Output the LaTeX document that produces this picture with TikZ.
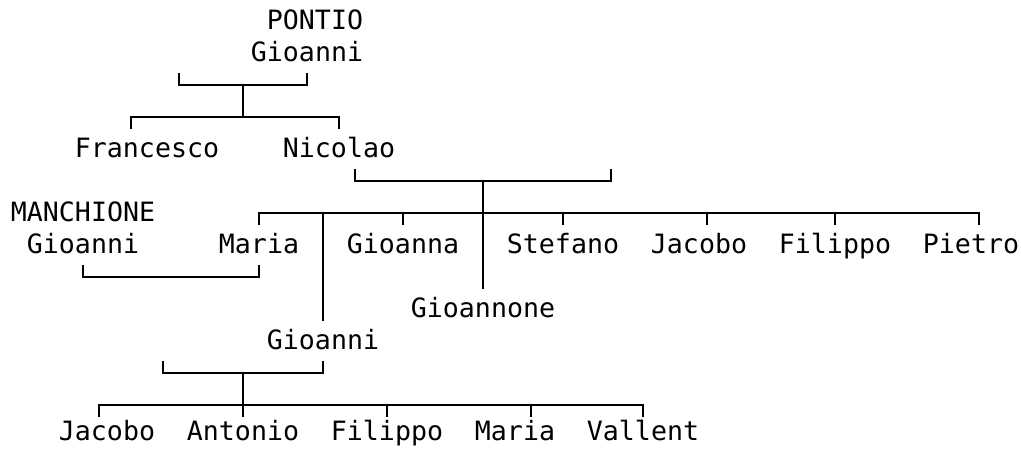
\documentclass[tikz,border=0pt]{standalone}
\usepackage{fontspec}
\setmonofont{DejaVu Sans Mono}
\begin{document}
\begin{tikzpicture}[x=16pt, y=-32pt,
  person/.style={inner sep=0pt, text height=28.5pt, text depth=11.5pt,
    font=\ttfamily\fontsize{26.6pt}{32pt}\selectfont},
  lastrow/.style={person, text height=23.5pt, text depth=2pt, anchor=base},
  link/.style={line width=1.8pt}]
\useasboundingbox (-0.1875,-1.65625) rectangle (63.625,12.34375);
% first generation
\node[person] (pontio) at (19.5,-1) {PONTIO};
\node[person] (gioanniP) at (19,0) {Gioanni};
\node[person] (francesco) at (9,3) {Francesco};
\node[person] (nicolao) at (21,3) {Nicolao};
% children of Nicolao
\node[person] (manchione) at (5,5) {MANCHIONE};
\node[person] (gioanniM) at (5,6) {Gioanni};
\node[person] (maria) at (16,6) {Maria};
\node[person] (gioanna) at (25,6) {Gioanna};
\node[person] (stefano) at (35,6) {Stefano};
\node[person] (jacobo) at (43.5,6) {Jacobo};
\node[person] (filippo) at (52,6) {Filippo};
\node[person] (pietro) at (60.5,6) {Pietro};
\node[person] (gioannone) at (30,8) {Gioannone};
\node[person] (gioanniN) at (20,9) {Gioanni};
% children of Gioanni
\node[lastrow] (jacoboN) at (6.5,12.11) {Jacobo};
\node[lastrow] (antonio) at (15,12.11) {Antonio};
\node[lastrow] (filippoN) at (24,12.11) {Filippo};
\node[lastrow] (mariaN) at (32,12.11) {Maria};
\node[lastrow] (vallent) at (40,12.11) {Vallent};
% marriages and descent
\coordinate (wifeP) at (11,0.625);
\coordinate (unionP) at (15,1);
\coordinate (kidsP) at (15,2);
\draw[link] (wifeP) -- ++(0,0.375) -| (gioanniP.south);
\draw[link] (unionP) -- (kidsP);
\draw[link] ([xshift=-16pt]francesco.north) -- ++(0,-0.375) -| (nicolao.north);
\coordinate (wifeN) at (38,3.625);
\coordinate (unionN) at (30,4);
\draw[link] ([xshift=16pt]nicolao.south) -- ++(0,0.375) -| (wifeN);
\draw[link] (unionN) -- (gioannone.north);
\draw[link] (maria.north) -- ++(0,-0.375) -| ([xshift=8pt]pietro.north);
\draw[link] (gioanna.north) -- ++(0,-0.375);
\draw[link] (stefano.north) -- ++(0,-0.375);
\draw[link] ([xshift=8pt]jacobo.north) -- ++(0,-0.375);
\draw[link] (filippo.north) -- ++(0,-0.375);
\coordinate (sonN) at (20,5);
\draw[link] (sonN) -- (gioanniN.north);
\draw[link] (gioanniM.south) -- ++(0,0.375) -| (maria.south);
\coordinate (wifeG) at (10,9.625);
\coordinate (unionG) at (15,10);
\coordinate (kidsG) at (15,11);
\draw[link] (wifeG) -- ++(0,0.375) -| (gioanniN.south);
\draw[link] (unionG) -- (kidsG);
\draw[link] ([xshift=-8pt]jacoboN.north) -- ++(0,-0.375) -| (vallent.north);
\draw[link] (antonio.north) -- ++(0,-0.375);
\draw[link] (filippoN.north) -- ++(0,-0.375);
\draw[link] ([xshift=16pt]mariaN.north) -- ++(0,-0.375);
\end{tikzpicture}
\end{document}
